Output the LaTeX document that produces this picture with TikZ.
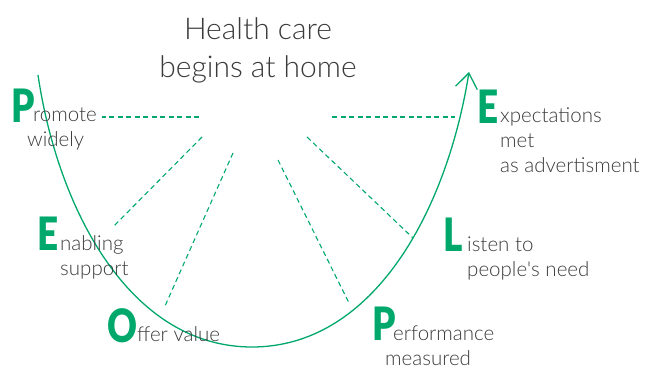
\documentclass[tikz,border=0pt]{standalone}
\usepackage{fontspec}
\setmainfont{Lato}[UprightFont=* Light, BoldFont=* Black]
\usepackage{tikz}
\usetikzlibrary{arrows.meta, positioning}
\definecolor{leafgreen}{HTML}{00A86B}
\definecolor{inkgray}{HTML}{3A3A3A}
\tikzstyle{spoke} = [leafgreen, line width=1.1pt, dash pattern=on 5pt off 3.5pt]
\newcommand{\twolines}[2]{\begin{tabular}[t]{@{}l@{}}#1\\#2\end{tabular}}

\begin{document}
\begin{tikzpicture}[
  x=1pt, y=-1pt,
  initial/.style={font=\fontsize{46}{46}\selectfont\bfseries, text=leafgreen,
    inner sep=0pt, anchor=base west, xscale=0.8, transform shape},
  caption/.style={font=\fontsize{20.5}{25}\selectfont, text=inkgray,
    inner sep=0pt, anchor=base west},
  title/.style={font=\fontsize{30}{38}\selectfont, text=inkgray, align=center},
  cycle/.style={leafgreen, line width=1.3pt, -{Straight Barb[length=15pt, width=22pt]}}
]
\useasboundingbox (0,0) rectangle (645,371);

% heading at the top
\node[title] (head) at (258,50) {Health care\\begins at home};

% the U-shaped loop, arrow at the right end
\coordinate (loopstart) at (38,75);
\coordinate (loopbottom) at (252,347);
\coordinate (loopend) at (469,72);
\draw[cycle] (loopstart) .. controls (58,210) and (130,347) .. (loopbottom)
  .. controls (374,347) and (447,210) .. (loopend);

% letters and their words
\node[initial] (P1) at (11,123) {P};
\node[caption] (promote) at (33,122) {\twolines{romote}{\hspace*{-6pt}widely}};
\node[initial] (E1) at (37,251) {E};
\node[caption] (enabling) at (60,251) {\twolines{nabling}{support}};
\node[initial] (O1) at (107,342) {O};
\node[caption] (offer) at (137,341) {ffer value};
\node[initial] (P2) at (372,340) {P};
\node[caption] (perform) at (393,340) {\twolines{erformance}{\hspace*{-8pt}measured}};
\node[initial] (L1) at (443,252) {L};
\node[caption] (listen) at (467,252) {\twolines{isten to}{people\textquotesingle s need}};
\node[initial] (E2) at (477,124) {E};
\node[caption] (expect) at (500,123) {\begin{tabular}[t]{@{}l@{}}xpectations\\met\\as advertisment\end{tabular}};

% dashed spokes
\coordinate (hubP1) at (199,117);
\coordinate (endP1) at (102,117);
\coordinate (hubE1) at (202,137);
\coordinate (endE1) at (113,227);
\coordinate (hubO1) at (233,153);
\coordinate (endO1) at (165,306);
\coordinate (hubP2) at (278,160);
\coordinate (endP2) at (349,303);
\coordinate (hubL1) at (307,137);
\coordinate (endL1) at (413,238);
\coordinate (hubE2) at (332,117);
\coordinate (endE2) at (455,117);
\foreach \s in {P1, E1, O1, P2, L1, E2}
  \draw[spoke] (hub\s) -- (end\s);

\end{tikzpicture}
\end{document}
